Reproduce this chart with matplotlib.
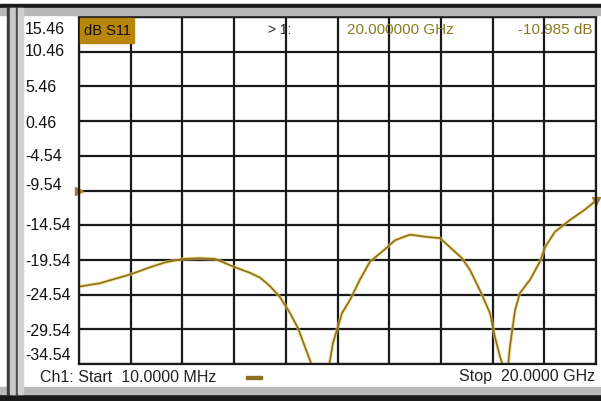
import matplotlib.pyplot as plt
from matplotlib.patches import Rectangle

# S11 sweep (GHz, dB)
freq_ghz = [0.01, 0.82, 2.02, 2.76, 3.34, 4.03, 4.69, 5.27, 6.04, 6.62, 7.01, 7.39,
            7.78, 8.17, 8.48, 8.75, 9.02, 9.33, 9.68, 9.83, 10.02, 10.18, 10.49,
            10.87, 11.26, 11.84, 12.23, 12.81, 13.39, 13.97, 14.35, 14.82, 15.13,
            15.51, 15.90, 16.09, 16.29, 16.40, 16.52, 16.60, 16.67, 16.87, 17.06,
            17.45, 17.83, 18.03, 18.41, 18.99, 19.57, 20.0]
s11_db = [-23.4, -22.9, -21.6, -20.6, -19.9, -19.4, -19.3, -19.4, -20.6, -21.4,
          -22.1, -23.3, -24.9, -27.2, -29.4, -32.1, -34.8, -35.5, -34.8, -31.5,
          -29.2, -27.2, -25.3, -22.4, -19.8, -18.0, -16.7, -15.9, -16.2, -16.4,
          -17.7, -19.3, -21.0, -23.9, -27.2, -30.6, -33.5, -34.8, -35.5, -34.8,
          -32.1, -26.8, -24.3, -22.4, -19.8, -17.7, -15.5, -13.8, -12.3, -11.0]

y_ticks = [15.46, 10.46, 5.46, 0.46, -4.54, -9.54, -14.54, -19.54, -24.54, -29.54, -34.54]
ref_level = -9.54
marker_freq = 20.0
marker_db = -10.985

W, H = 601, 401
fig = plt.figure(figsize=(W / 100, H / 100), dpi=100)
fig.patch.set_facecolor("white")


def fx(px):
    return px / W


def fy(py):
    return 1 - py / H


def band(x0, y0, x1, y1, color):
    # rectangle given in pixel coords (top-left origin)
    fig.add_artist(Rectangle((fx(x0), fy(y1)), fx(x1) - fx(x0), fy(y0) - fy(y1),
                             transform=fig.transFigure, color=color))


# instrument frame decorations
band(0, 394, W, H, "#1a1a1a")
band(0, 387, W, 394, "#b8b8b8")
band(0, 4, W, 8, "#1a1a1a")
band(0, 8, W, 15, "#b8b8b8")
band(7, 8, 10, 394, "#3a3a3a")
band(10, 8, 16, 394, "#c8c8c8")
band(16, 8, 18, 394, "#4a4a4a")
band(18, 8, 23, 394, "#d0d0d0")

ax = fig.add_axes([fx(79), fy(364), fx(596) - fx(79), fy(17) - fy(364)])
ax.set_xlim(0.01, 20.0)
ax.set_ylim(-34.54, 15.46)

x_grid = [0.01 + i * (20.0 - 0.01) / 10 for i in range(11)]
ax.set_xticks(x_grid)
ax.set_yticks(y_ticks)
ax.grid(True, color="#1a1a1a", linewidth=1.6)
ax.tick_params(length=0, labelleft=False, labelbottom=False)
for s in ax.spines.values():
    s.set_color("#1a1a1a")
    s.set_linewidth(1.6)

ax.plot(freq_ghz, s11_db, color="#f0d060", linewidth=2.6, alpha=0.6)
ax.plot(freq_ghz, s11_db, color="#8a7020", linewidth=1.2)

# reference position and marker
ax.plot([0.01], [ref_level], marker=">", color="#a08020", markersize=6, clip_on=False)
ax.plot([marker_freq], [marker_db], marker="v", color="#a08020", markersize=6, clip_on=False)

# y labels in the left column
label_y = [30, 52, 88, 123, 157, 186, 225, 262, 296, 331, 356]
for val, py in zip(y_ticks, label_y):
    fig.text(fx(25), fy(py), f"{val:.2f}", ha="left", va="center",
             fontsize=11.5, family="Liberation Sans", color="#111111")

# trace title box
band(80, 18, 134, 43, "#b8860b")
fig.text(fx(107), fy(31), "dB S11", ha="center", va="center",
         fontsize=10.5, family="Liberation Sans", color="#111111")

fig.text(fx(268), fy(30), "> 1:", ha="left", va="center", fontsize=10,
         family="Liberation Sans", color="#222222")
fig.text(fx(347), fy(30), f"{marker_freq:.6f} GHz", ha="left", va="center", fontsize=11,
         family="Liberation Sans", color="#8a7a20")
fig.text(fx(592), fy(30), f"{marker_db:.3f} dB", ha="right", va="center", fontsize=11,
         family="Liberation Sans", color="#8a7a20")

fig.text(fx(40), fy(377), "Ch1: Start  10.0000 MHz", ha="left", va="center",
         fontsize=11.5, family="Liberation Sans", color="#222222")
band(246, 376, 262, 379, "#8a7020")
fig.text(fx(595), fy(377), "Stop  20.0000 GHz", ha="right", va="center",
         fontsize=11.5, family="Liberation Sans", color="#222222")

fig.savefig("out.png", dpi=100)
